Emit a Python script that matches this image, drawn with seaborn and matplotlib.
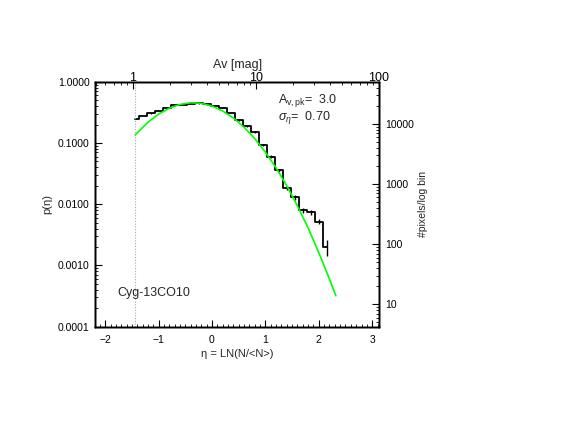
import numpy as np
import pandas as pd
import seaborn as sns
import matplotlib
matplotlib.use("Agg")
from matplotlib import pyplot as plt
from matplotlib.ticker import MultipleLocator, FixedLocator, FormatStrFormatter, LogLocator, NullFormatter

# histogram of eta = ln(N/<N>), bin centres and p(eta)
eta_bins = [-1.44, -1.29, -1.14, -0.99, -0.84, -0.69, -0.54, -0.39, -0.24, -0.09,
            0.06, 0.21, 0.36, 0.51, 0.66, 0.81, 0.96, 1.11, 1.26, 1.41,
            1.56, 1.71, 1.86, 2.01, 2.16]
p_hist = [0.248, 0.273, 0.303, 0.335, 0.368, 0.416, 0.420, 0.437, 0.441, 0.425,
          0.404, 0.379, 0.308, 0.234, 0.188, 0.151, 0.0916, 0.0597, 0.0358, 0.0186,
          0.0130, 0.0079, 0.0074, 0.0052, 0.0020]
p_err = [0.002, 0.002, 0.002, 0.002, 0.002, 0.002, 0.002, 0.002, 0.002, 0.002,
         0.002, 0.002, 0.002, 0.002, 0.0056, 0.0053, 0.0037, 0.0030, 0.0023, 0.0013,
         0.0012, 0.0007, 0.00063, 0.00047, 0.00056]

# lognormal fit (green)
eta_fit = [-1.44, -1.2, -1.0, -0.8, -0.6, -0.4, -0.2, 0.0, 0.2, 0.4,
           0.6, 0.8, 1.0, 1.2, 1.4, 1.6, 1.8, 2.0, 2.2, 2.32]
p_fit = [0.135, 0.217, 0.295, 0.369, 0.426, 0.453, 0.444, 0.400, 0.333, 0.256,
         0.181, 0.118, 0.0707, 0.0392, 0.0200, 0.0094, 0.0041, 0.00162, 0.00060, 0.00032]

eta_cut = -1.44
av_mean = 4.41
av_ticks = [1, 10, 100]
count_ticks = [10, 100, 1000, 10000]

sns.set_theme(style="ticks")
plt.rcParams['font.family'] = ['Liberation Sans', 'DejaVu Sans']
plt.rcParams['mathtext.fontset'] = 'custom'
plt.rcParams['mathtext.rm'] = 'Liberation Sans'
plt.rcParams['mathtext.it'] = 'Liberation Sans:italic'
plt.rcParams['mathtext.bf'] = 'Liberation Sans:bold'

fig = plt.figure(figsize=(5.64, 4.36), dpi=100)
ax = fig.add_axes([0.169, 0.2507, 0.5035, 0.5619])

hist_df = pd.DataFrame({"eta": eta_bins, "p": p_hist})
fit_df = pd.DataFrame({"eta": eta_fit, "p": p_fit})

sns.lineplot(data=hist_df, x="eta", y="p", ax=ax, color="black", lw=1.3,
             drawstyle="steps-mid", estimator=None, sort=False)
ax.errorbar(eta_bins, p_hist, yerr=p_err, fmt="none", ecolor="black", elinewidth=1.0, capsize=0)
sns.lineplot(data=fit_df, x="eta", y="p", ax=ax, color="#00ff00", lw=1.2,
             estimator=None, sort=False)
ax.axvline(eta_cut, color="#aaaaaa", lw=0.8, ls=(0, (1, 1.5)))

xlim = (-2.185, 3.133)
ax.set_yscale("log")
ax.set_xlim(*xlim)
ax.set_ylim(1e-4, 1.0)
ax.xaxis.set_major_locator(MultipleLocator(1))
ax.xaxis.set_minor_locator(MultipleLocator(0.1))
ax.yaxis.set_major_locator(FixedLocator([1e-4, 1e-3, 1e-2, 1e-1, 1.0]))
ax.yaxis.set_minor_locator(LogLocator(base=10, subs=np.arange(2, 10)))
ax.yaxis.set_major_formatter(FormatStrFormatter("%.4f"))
ax.yaxis.set_minor_formatter(NullFormatter())
ax.tick_params(axis="both", which="both", direction="in", labelsize=7.5, colors="black")
ax.tick_params(axis="x", which="both", top=False, pad=6)
ax.tick_params(axis="y", which="both", right=False, pad=4)
ax.tick_params(which="major", length=5, width=0.8)
ax.tick_params(which="minor", length=2.5, width=0.6)
ax.set_xlabel("η = LN(N/<N>)", fontsize=8, labelpad=3)
ax.set_ylabel("p(η)", fontsize=8, labelpad=4)

# top axis: Av [mag]
ax_top = ax.twiny()
ax_top.set_xscale("log")
ax_top.set_xlim(av_mean * np.exp(xlim[0]), av_mean * np.exp(xlim[1]))
ax_top.xaxis.set_major_locator(FixedLocator(av_ticks))
ax_top.xaxis.set_major_formatter(FormatStrFormatter("%d"))
ax_top.xaxis.set_minor_locator(LogLocator(base=10, subs=np.arange(2, 10)))
ax_top.xaxis.set_minor_formatter(NullFormatter())
ax_top.tick_params(axis="x", which="both", direction="in", labelsize=9, pad=-1.5, colors="black")
ax_top.tick_params(which="major", length=5, width=0.8)
ax_top.tick_params(which="minor", length=2.5, width=0.6)
ax_top.set_xlabel("Av [mag]", fontsize=9, labelpad=2.5)

# right axis: pixel counts
ax_r = ax.twinx()
ax_r.set_yscale("log")
ax_r.set_ylim(4.24, 50700)
ax_r.yaxis.set_major_locator(FixedLocator(count_ticks))
ax_r.yaxis.set_major_formatter(FormatStrFormatter("%d"))
ax_r.yaxis.set_minor_locator(LogLocator(base=10, subs=np.arange(2, 10)))
ax_r.yaxis.set_minor_formatter(NullFormatter())
ax_r.tick_params(axis="y", which="both", direction="in", labelsize=7.5, pad=4, colors="black")
ax_r.tick_params(which="major", length=5, width=0.8)
ax_r.tick_params(which="minor", length=2.5, width=0.6)
ax_r.set_ylabel("#pixels/log bin", fontsize=7.5, labelpad=3)

for a in (ax, ax_top, ax_r):
    for s in a.spines.values():
        s.set_linewidth(1.0)
        s.set_color("black")

ax.text(0.643, 0.889, "A$_{\\rm v,pk}$=  3.0\n$\\sigma_\\eta$=  0.70", transform=ax.transAxes,
        fontsize=9, va="center", ha="left", linespacing=1.0)
ax.text(0.079, 0.138, "Cyg-13CO10", transform=ax.transAxes, fontsize=9, va="center")

fig.savefig("out.png", dpi=100)
